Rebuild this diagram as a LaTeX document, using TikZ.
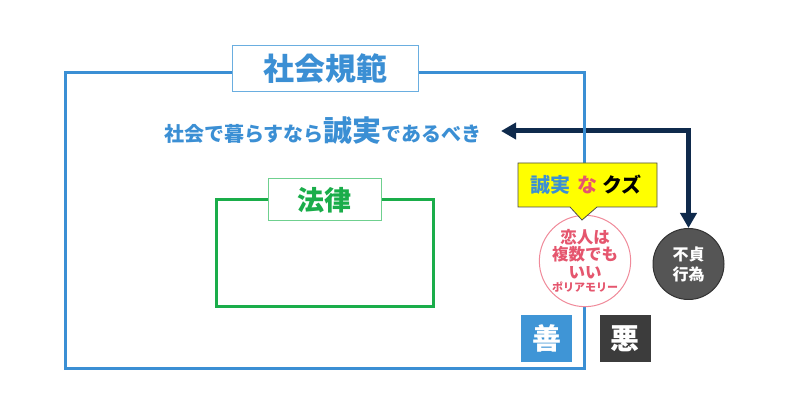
\documentclass[tikz,border=0pt]{standalone}
\usepackage{fontspec}
\newfontfamily\jp{Noto Sans CJK JP}
\usetikzlibrary{arrows.meta}
\definecolor{normblue}{HTML}{3B8FD4}
\definecolor{normlight}{HTML}{6AAEE0}
\definecolor{lawgreen}{HTML}{1AAD4A}
\definecolor{lawlight}{HTML}{6FD08F}
\definecolor{navy}{HTML}{0F2A4C}
\definecolor{calloutyellow}{HTML}{FFFF00}
\definecolor{pinkred}{HTML}{E5566E}
\definecolor{pinkline}{HTML}{F08A9A}
\definecolor{goodblue}{HTML}{3F95D6}
\definecolor{baddark}{HTML}{3C3C3C}
\definecolor{circdark}{HTML}{555555}
\tikzset{
  frame/.style={draw, inner sep=0pt, line width=3pt},
  titlebox/.style={draw, fill=white, line width=1pt, inner sep=0pt, font=\jp\bfseries},
  square/.style={inner sep=0pt, minimum width=51pt, minimum height=47pt, text=white, font=\jp\bfseries\fontsize{29}{30}\selectfont},
  conn/.style={draw=navy, line width=5pt, {Triangle[length=15pt,width=16pt]}-{Triangle[length=15pt,width=16pt]}},
}
\begin{document}
\begin{tikzpicture}[x=1pt,y=-1pt]
\useasboundingbox[fill=white] (0,0) rectangle (800,419);

% connector (drawn first, blue frame crosses over it)
\node[circle, fill=circdark, draw=black!80, line width=1pt, minimum size=71pt, inner sep=0pt,
      text=white, align=center, font=\jp\bfseries\fontsize{16}{20}\selectfont] (bad) at (688.5,264) {不貞\\行為};
\coordinate (arrowL) at (501,131);
\draw[conn] (arrowL) -| (bad.north);

% social norms frame
\node[frame, draw=normblue, minimum width=519pt, minimum height=295pt] (society) at (324.5,220.5) {};
\node[titlebox, draw=normlight, text=normblue, minimum width=186pt, minimum height=46pt,
      font=\jp\bfseries\fontsize{31}{33}\selectfont] (societytitle) at (325,69) {社会規範};
\node[text=normblue, inner sep=0pt, font=\jp\bfseries\fontsize{20}{22}\selectfont] (motto) at (323,131)
  {社会で暮らすなら{\fontsize{29}{30}\selectfont 誠実}であるべき};

% law frame
\node[frame, draw=lawgreen, minimum width=217pt, minimum height=107pt] (law) at (324.5,253.5) {};
\node[titlebox, draw=lawlight, text=lawgreen, minimum width=113pt, minimum height=42pt,
      font=\jp\bfseries\fontsize{27}{29}\selectfont] (lawtitle) at (324.5,200) {法律};

% pink circle
\node[circle, fill=white, draw=pinkline, line width=1pt, minimum size=88pt, inner sep=0pt,
      text=pinkred, align=center, font=\jp\bfseries\fontsize{16.5}{17.5}\selectfont] (poly) at (585,261)
  {恋人は\\複数でも\\いい\\[-4pt]{\fontsize{11}{11}\selectfont ポリアモリー}};

% callout
\filldraw[fill=calloutyellow, draw=black!70, line width=0.8pt]
  (518,163) -- (657,163) -- (657,207) -- (597,207) -- (582,220) -- (570,207) -- (518,207) -- cycle;
\node[inner sep=0pt, font=\jp\bfseries\fontsize{20}{22}\selectfont] (callout) at (586,185)
  {\textcolor{normblue}{誠実}\hspace{3pt} \textcolor{pinkred}{な} クズ};

% good / bad
\node[square, fill=goodblue] (good) at (546.5,338.5) {善};
\node[square, fill=baddark] (evil) at (625,338.5) {悪};
\end{tikzpicture}
\end{document}
